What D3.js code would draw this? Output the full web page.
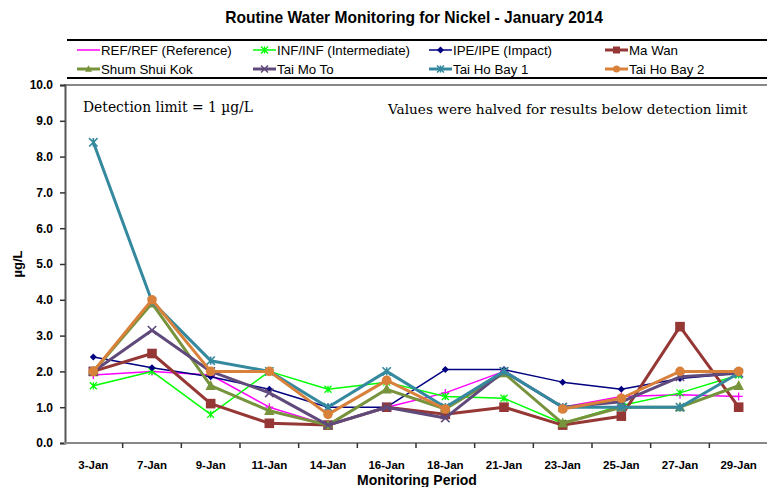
<!DOCTYPE html>
<html>
<head>
<meta charset="utf-8">
<script src="https://cdn.jsdelivr.net/npm/d3@7"></script>
<style>
  body { margin: 0; background: #fff; }
  svg { display: block; font-family: 'Liberation Sans', Arial, sans-serif; }
</style>
</head>
<body>
<svg id="chart" width="767" height="487"></svg>
<script>
// sampling dates
const dates = ['3-Jan', '7-Jan', '9-Jan', '11-Jan', '14-Jan', '16-Jan', '18-Jan', '21-Jan', '23-Jan', '25-Jan', '27-Jan', '29-Jan'];

// nickel, ug/L per station (null = no result plotted)
const refValues = [1.9, 2.0, 1.9, 1.0, 0.5, 1.0, 1.4, 2.0, 1.0, 1.3, 1.35, 1.3];
const infValues = [1.6, 2.0, 0.8, 2.0, 1.5, 1.7, 1.3, 1.25, 0.55, 1.05, 1.4, 1.9];
const ipeValues = [2.4, 2.1, 1.85, 1.5, 1.0, 1.0, 2.05, 2.05, 1.7, 1.5, 1.8, 1.95];
const maWanValues = [2.0, 2.5, 1.1, 0.55, 0.5, 1.0, 0.8, 1.0, 0.5, 0.75, 3.25, 1.0];
const shumShuiKokValues = [2.0, 3.9, 1.6, 0.9, 0.5, 1.5, 0.95, 1.95, 0.55, 1.0, 1.0, 1.6];
const taiMoToValues = [2.0, 3.15, 2.0, 1.4, 0.5, 1.0, 0.7, 2.0, 1.0, 1.15, 1.85, 1.95];
const taiHoBay1Values = [8.4, 3.95, 2.3, 2.0, 1.0, 2.0, 1.0, 2.0, 1.0, 1.0, 1.0, 1.95];
const taiHoBay2Values = [2.0, 4.0, 2.0, 2.0, 0.8, 1.75, 0.95, null, 0.95, 1.25, 2.0, 2.0];

const yTicks = [0, 1, 2, 3, 4, 5, 6, 7, 8, 9, 10];

const series = [
  { name: 'REF/REF (Reference)', values: refValues, color: '#ff00ff', width: 1.5, marker: 'plus', size: 4 },
  { name: 'INF/INF (Intermediate)', values: infValues, color: '#00ff00', width: 1.5, marker: 'star', size: 3.5 },
  { name: 'IPE/IPE (Impact)', values: ipeValues, color: '#000080', width: 1.5, marker: 'diamond', size: 3.5 },
  { name: 'Ma Wan', values: maWanValues, color: '#953735', width: 3, marker: 'square', size: 4.8 },
  { name: 'Shum Shui Kok', values: shumShuiKokValues, color: '#77933c', width: 3, marker: 'triangle', size: 5.2 },
  { name: 'Tai Mo To', values: taiMoToValues, color: '#604a7b', width: 3, marker: 'x', size: 4.2 },
  { name: 'Tai Ho Bay 1', values: taiHoBay1Values, color: '#35899f', width: 3, marker: 'star', size: 4.2 },
  { name: 'Tai Ho Bay 2', values: taiHoBay2Values, color: '#d9813b', width: 3, marker: 'circle', size: 4.8 }
];

const margin = { top: 85, right: -1, bottom: 44, left: 64 };
const width = 767;
const height = 487;

const svg = d3.select('#chart');

const x = d3
  .scaleBand()
  .domain(dates)
  .range([margin.left, width - margin.right])
  .padding(0);

const y = d3
  .scaleLinear()
  .domain([0, 10])
  .range([height - margin.bottom, margin.top]);

const xc = d => x(d) + x.bandwidth() / 2;

// squeeze/stretch a text to the width it has in the original
function fitWidth(sel, target) {
  const w = sel.node().getComputedTextLength();
  const fs = parseFloat(sel.style('font-size'));
  sel.style('font-size', `${(fs * target) / w}px`);
}

// title
const title = svg
  .append('text')
  .attr('x', 414)
  .attr('y', 23)
  .attr('text-anchor', 'middle')
  .style('font-size', '15px')
  .style('font-weight', 'bold')
  .text('Routine Water Monitoring for Nickel - January 2014');
fitWidth(title, 378);

// plot area top border
svg
  .append('line')
  .attr('x1', margin.left)
  .attr('x2', width)
  .attr('y1', y(10))
  .attr('y2', y(10))
  .attr('stroke', '#888')
  .attr('stroke-width', 2);

// y axis
const yAxis = svg
  .append('g')
  .attr('transform', `translate(${margin.left + 1}, 0)`)
  .call(
    d3
      .axisLeft(y)
      .tickValues(yTicks)
      .tickFormat(d3.format('.1f'))
      .tickSize(5)
      .tickPadding(7)
  );
yAxis.select('.domain').attr('stroke', '#555').attr('stroke-width', 2);
yAxis.selectAll('.tick line').attr('stroke', '#333').attr('stroke-width', 1.5);
yAxis
  .selectAll('.tick text')
  .style('font-size', '12px')
  .style('font-weight', 'bold')
  .style('font-family', "'Liberation Sans', Arial, sans-serif")
  .attr('fill', '#000');

// x axis labels
const xAxis = svg
  .append('g')
  .attr('transform', `translate(0, ${y(0)})`)
  .call(d3.axisBottom(x).tickSize(0).tickPadding(18));
xAxis.select('.domain').remove();
xAxis
  .selectAll('.tick text')
  .style('font-size', '11.5px')
  .style('font-weight', 'bold')
  .style('font-family', "'Liberation Sans', Arial, sans-serif")
  .attr('fill', '#000');

// x axis line and category boundary ticks
svg
  .append('line')
  .attr('x1', margin.left)
  .attr('x2', width)
  .attr('y1', y(0))
  .attr('y2', y(0))
  .attr('stroke', '#888')
  .attr('stroke-width', 2);

svg
  .append('g')
  .selectAll('line')
  .data(dates)
  .join('line')
  .attr('x1', d => x(d) + x.bandwidth())
  .attr('x2', d => x(d) + x.bandwidth())
  .attr('y1', y(0))
  .attr('y2', y(0) + 5)
  .attr('stroke', '#333')
  .attr('stroke-width', 1.5);

// axis titles
svg
  .append('text')
  .attr('x', 417)
  .attr('y', 485)
  .attr('text-anchor', 'middle')
  .style('font-size', '14px')
  .style('font-weight', 'bold')
  .text('Monitoring Period');

svg
  .append('text')
  .attr('transform', `translate(22, ${y(5)}) rotate(-90)`)
  .attr('text-anchor', 'middle')
  .style('font-size', '13px')
  .style('font-weight', 'bold')
  .text('µg/L');

// annotations
const note1 = svg
  .append('text')
  .attr('x', 83)
  .attr('y', 112)
  .style('font-family', "'DejaVu Serif', 'Liberation Serif', serif")
  .style('font-size', '14px')
  .text('Detection limit = 1 µg/L');
fitWidth(note1, 170);

const note2 = svg
  .append('text')
  .attr('x', 388)
  .attr('y', 114)
  .style('font-family', "'DejaVu Serif', 'Liberation Serif', serif")
  .style('font-size', '14px')
  .text('Values were halved for results below detection limit');
fitWidth(note2, 360);

function drawMarker(sel, s) {
  const r = s.size;
  if (s.marker === 'square') {
    sel.append('rect')
      .attr('x', -r).attr('y', -r)
      .attr('width', 2 * r).attr('height', 2 * r)
      .attr('fill', s.color);
  } else if (s.marker === 'circle') {
    sel.append('circle').attr('r', r).attr('fill', s.color);
  } else if (s.marker === 'triangle') {
    sel.append('path')
      .attr('d', `M0,${-r * 1.1}L${r},${r * 0.8}L${-r},${r * 0.8}Z`)
      .attr('fill', s.color);
  } else if (s.marker === 'diamond') {
    sel.append('path')
      .attr('d', `M0,${-r}L${r},0L0,${r}L${-r},0Z`)
      .attr('fill', s.color);
  } else {
    let d = '';
    if (s.marker === 'plus') d = `M${-r},0H${r}M0,${-r}V${r}`;
    if (s.marker === 'x') d = `M${-r},${-r}L${r},${r}M${-r},${r}L${r},${-r}`;
    if (s.marker === 'star') d = `M${-r},${-r}L${r},${r}M${-r},${r}L${r},${-r}M0,${-r}V${r}`;
    sel.append('path')
      .attr('d', d)
      .attr('fill', 'none')
      .attr('stroke', s.color)
      .attr('stroke-width', s.width >= 3 ? 1.6 : 1.3);
  }
}

const lineGen = d3
  .line()
  .defined(d => d !== null)
  .x((d, i) => xc(dates[i]))
  .y(d => y(d));

const plot = svg.append('g');

series.forEach(s => {
  plot
    .append('path')
    .attr('fill', 'none')
    .attr('stroke', s.color)
    .attr('stroke-width', s.width)
    .attr('stroke-linejoin', 'round')
    .attr('d', lineGen(s.values));

  s.values.forEach((v, i) => {
    if (v === null) return;
    const g = plot
      .append('g')
      .attr('transform', `translate(${xc(dates[i])}, ${y(v)})`);
    drawMarker(g, s);
  });
});

// legend
const legend = svg.append('g');
legend
  .append('line')
  .attr('x1', 67).attr('x2', width)
  .attr('y1', 40).attr('y2', 40)
  .attr('stroke', '#000').attr('stroke-width', 2);
legend
  .append('line')
  .attr('x1', 67).attr('x2', width)
  .attr('y1', 78).attr('y2', 78)
  .attr('stroke', '#000').attr('stroke-width', 2);

const legendCols = [77, 253, 429, 605];
const legendRows = [50, 69];

series.forEach((s, i) => {
  const lx = legendCols[i % 4];
  const ly = legendRows[Math.floor(i / 4)];
  const item = legend.append('g').attr('transform', `translate(${lx}, ${ly})`);
  item
    .append('line')
    .attr('x1', 0).attr('x2', 23)
    .attr('stroke', s.color)
    .attr('stroke-width', s.width);
  if (s.marker !== 'plus') {
    const m = item.append('g').attr('transform', 'translate(11.5, 0)');
    drawMarker(m, Object.assign({}, s, { size: Math.min(s.size, 3.5) }));
  }
  item
    .append('text')
    .attr('x', 24)
    .attr('y', 4.5)
    .style('font-size', '13.3px')
    .text(s.name);
});
</script>
</body>
</html>
